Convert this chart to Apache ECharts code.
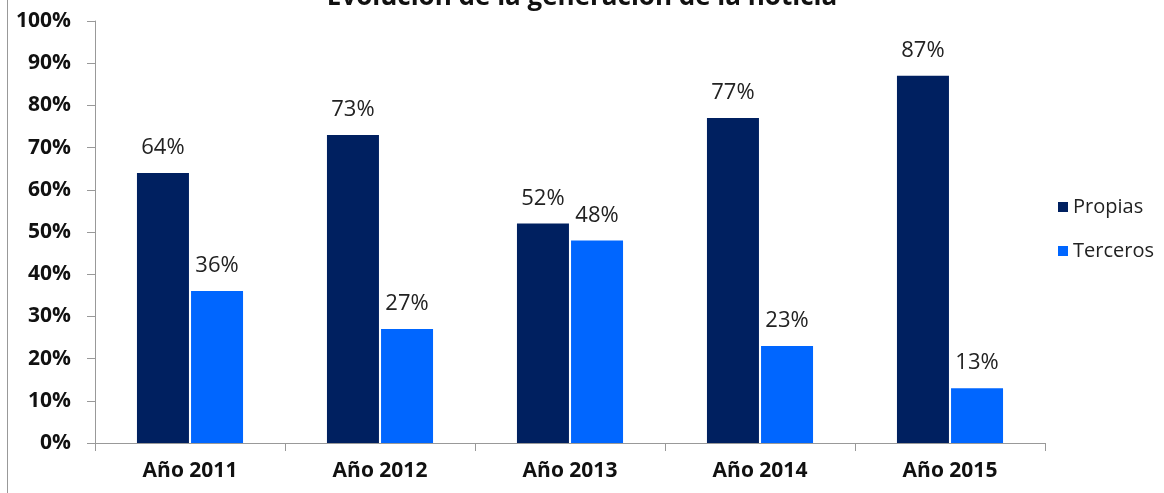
<!DOCTYPE html>
<html>
<head>
<meta charset="utf-8">
<script src="https://cdn.jsdelivr.net/npm/echarts@6/dist/echarts.min.js"></script>
<style>
  html, body { margin: 0; padding: 0; background: #fff; }
  #chart { width: 1164px; height: 493px; }
</style>
</head>
<body>
<div id="chart"></div>
<script>
var years = ['Año 2011', 'Año 2012', 'Año 2013', 'Año 2014', 'Año 2015'];
var propias = [64, 73, 52, 77, 87];
var terceros = [36, 27, 48, 23, 13];
var yTicks = [0, 10, 20, 30, 40, 50, 60, 70, 80, 90, 100];

var font = '"Open Sans", "Liberation Sans", sans-serif';

var myChart = echarts.init(document.getElementById('chart'));

function labelStyle() {
  return {
    show: true,
    position: 'top',
    distance: 14,
    formatter: '{c}%',
    fontFamily: font,
    fontSize: 22,
    color: '#222'
  };
}

var option = {
  animation: false,
  title: {
    text: 'Evolución de la generación de la noticia',
    left: 'center',
    top: -20,
    textStyle: { fontFamily: font, fontSize: 26, fontWeight: 'bold', color: '#111' }
  },
  legend: {
    orient: 'vertical',
    left: 1053,
    top: 192,
    itemWidth: 10,
    itemHeight: 10,
    itemGap: 24,
    icon: 'rect',
    textStyle: { fontFamily: font, fontSize: 20, color: '#222' },
    data: ['Propias', 'Terceros']
  },
  grid: { left: 95, right: 119, top: 21, bottom: 50 },
  xAxis: {
    type: 'category',
    data: years,
    axisLine: { lineStyle: { color: '#999', width: 1 } },
    axisTick: { show: true, length: 8, lineStyle: { color: '#999' } },
    axisLabel: { fontFamily: font, fontSize: 21, fontWeight: 'bold', color: '#111', margin: 18 }
  },
  yAxis: {
    type: 'value',
    min: yTicks[0],
    max: yTicks[yTicks.length - 1],
    interval: 10,
    axisLine: { show: true, lineStyle: { color: '#999', width: 1 } },
    axisTick: { show: true, length: 8, lineStyle: { color: '#999' } },
    splitLine: { show: false },
    axisLabel: { formatter: '{value}%', fontFamily: font, fontSize: 21, fontWeight: 'bold', color: '#111', margin: 24 }
  },
  graphic: [{
    type: 'line',
    shape: { x1: 7.5, y1: 0, x2: 7.5, y2: 493 },
    style: { stroke: '#999', lineWidth: 1 }
  }],
  series: [{
    name: 'Propias',
    type: 'bar',
    data: propias,
    barWidth: 52,
    barGap: '4%',
    itemStyle: { color: '#002060' },
    label: labelStyle()
  }, {
    name: 'Terceros',
    type: 'bar',
    data: terceros,
    barWidth: 52,
    itemStyle: { color: '#0066FF' },
    label: labelStyle()
  }]
};

myChart.setOption(option);
</script>
</body>
</html>
